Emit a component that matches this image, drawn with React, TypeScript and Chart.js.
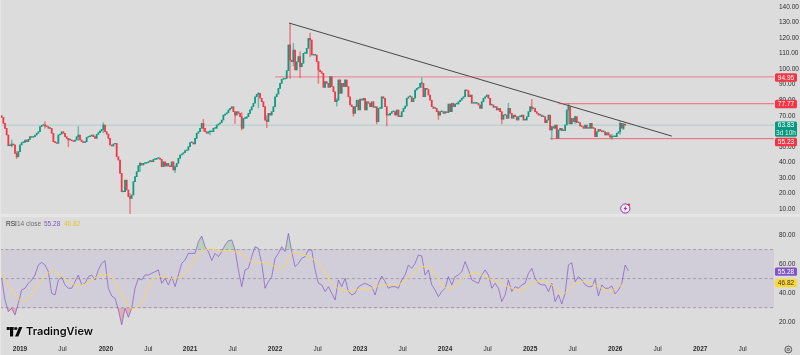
import React, { useEffect, useRef } from "react";
import { Chart, registerables } from "chart.js";

Chart.register(...registerables);

const FONT = "'Liberation Sans', sans-serif";
const BG = "#dcdcdc";
const UP = "#0b9a82";
const DOWN = "#f23645";

// weekly closes
const closes = [
  68.9, 65.1, 61.9, 57.6, 50.7, 50.7, 51.8, 51.2, 45.8, 43.6, 46.9, 51.2, 52.7, 52.9, 54.4, 53.3, 54.8, 56.5, 56.1, 56.5,
  57.6, 58.7, 59.7, 63.0, 63.8, 64.2, 63.4, 63.0, 61.9, 61.9, 58.7, 53.3, 52.7, 52.2, 57.6, 58.2, 59.7, 58.7, 56.5, 55.4,
  54.4, 54.4, 53.9, 53.5, 54.4, 56.5, 57.6, 54.4, 53.3, 52.7, 53.3, 56.1, 56.5, 56.9, 57.6, 56.5, 55.4, 58.0, 59.1, 60.2,
  61.2, 64.0, 59.7, 58.2, 55.4, 51.2, 50.5, 51.8, 52.2, 43.6, 41.5, 32.9, 21.1, 21.1, 28.6, 22.2, 18.0, 16.8, 19.0, 27.6,
  30.8, 34.0, 37.9, 39.4, 38.3, 39.4, 39.4, 39.8, 40.4, 41.1, 40.4, 41.9, 41.9, 42.6, 42.8, 41.9, 37.2, 40.4, 37.6, 39.4,
  37.6, 37.2, 40.4, 35.1, 37.2, 39.4, 42.6, 44.7, 45.4, 46.2, 47.5, 47.9, 50.1, 52.7, 52.7, 51.8, 55.4, 58.7, 59.7, 61.9,
  65.1, 61.9, 59.7, 58.7, 59.7, 59.7, 59.7, 61.9, 61.9, 64.0, 64.7, 65.5, 67.2, 70.4, 71.1, 71.9, 73.7, 74.7, 75.8, 72.6,
  70.4, 72.6, 71.5, 69.4, 61.9, 68.3, 68.3, 69.4, 71.5, 73.7, 75.8, 78.0, 82.2, 83.7, 84.4, 81.2, 79.0, 75.8, 67.2, 66.2,
  71.5, 70.4, 72.6, 75.8, 82.2, 83.9, 87.6, 90.8, 93.4, 93.6, 94.0, 99.0, 115.5, 105.8, 104.7, 112.2, 99.4, 104.7, 108.0, 101.5,
  103.7, 110.1, 110.1, 113.3, 119.7, 118.7, 109.0, 109.0, 109.0, 104.7, 99.4, 98.3, 97.2, 88.2, 91.9, 90.8, 88.2, 95.1, 88.7, 85.4,
  79.0, 80.0, 93.0, 84.4, 90.8, 88.7, 93.0, 88.7, 82.2, 76.9, 75.8, 71.5, 75.8, 80.0, 73.7, 80.7, 80.0, 81.2, 73.7, 79.0,
  78.0, 75.8, 79.0, 75.4, 75.8, 66.2, 74.7, 74.7, 82.2, 81.2, 75.8, 70.4, 70.4, 71.5, 72.6, 72.6, 70.4, 73.7, 69.4, 69.4,
  72.6, 74.7, 76.2, 81.2, 82.2, 82.2, 79.0, 81.2, 86.5, 87.6, 88.2, 90.8, 90.8, 82.2, 87.6, 86.9, 83.3, 80.0, 75.8, 74.7,
  74.7, 72.6, 70.4, 72.6, 72.6, 71.5, 72.6, 72.0, 77.5, 72.6, 78.0, 75.8, 77.5, 77.5, 79.0, 80.0, 81.2, 82.2, 86.5, 86.1,
  82.2, 83.3, 78.0, 78.0, 78.0, 78.0, 76.9, 74.7, 79.0, 81.2, 82.2, 83.3, 81.2, 76.9, 76.9, 75.4, 75.8, 73.7, 74.7, 72.6,
  67.7, 70.4, 70.4, 68.3, 74.7, 71.5, 68.3, 70.4, 69.4, 67.2, 69.4, 69.4, 70.4, 67.2, 67.2, 69.4, 72.6,
  75.8, 74.7, 74.7, 72.6, 71.5, 70.4, 70.4, 69.4, 69.4, 65.5, 67.2, 70.4, 60.8, 63.0, 61.9, 64.0, 55.4, 60.8, 61.9, 60.4,
  60.4, 64.0, 73.7, 75.8, 64.7, 68.3, 66.2, 69.4, 65.5, 65.5, 63.4, 63.0, 61.9, 64.0, 61.9, 61.9, 65.1, 61.9, 61.9, 56.5,
  59.7, 61.2, 60.4, 59.7, 59.7, 57.6, 59.1, 57.6, 56.1, 56.5, 56.5, 56.5, 58.7, 59.7, 65.1, 61.9, 64.7, 63.83,
];

// notable wicks: candle index, low, high
const wickIndex = [6, 9, 26, 40, 46, 61, 77, 83, 104, 121, 125, 140, 144, 154, 159, 173, 175, 179, 185, 190, 201, 211, 225, 231, 252, 262, 300, 304, 318, 330, 333, 340, 344, 366, 371, 373];
const wickLow = [50, 42.4, 62, 50.1, 54, 59, 6.2, 34, 33.4, 60, 57.6, 65, 60.8, 75, 62.3, 94, 102, 94.5, 108, 90.8, 76.2, 69.8, 64.7, 63.4, 88, 67.6, 64.7, 70, 73, 54.8, 55.3, 64.7, 65, 54.8, 58, 61];
const wickHigh = [54.4, 47, 66.2, 55, 63, 65.5, 20, 40, 38, 67.6, 60, 72, 72, 85, 70, 129.4, 116.5, 111, 123.1, 105, 81, 76, 74.7, 72, 94.4, 73, 71, 78, 80.5, 63, 62, 77.8, 69.8, 58, 66.2, 65];

const rsiValues = [
  50.2, 35.3, 27.3, 29.6, 25, 33.1, 42.2, 43.4, 46.8, 49.1, 52.5, 59.4, 61.2, 59.4, 54.8, 39.9, 38.8, 49.1, 50.9, 45.7,
  43.4, 43.4, 47.9, 52.5, 45.7, 46.8, 51.4, 52.5, 49.1, 56, 60.5, 62.4, 43.4, 38.1, 36.5, 28.5, 18.2, 29.6, 23.4, 29.6,
  43.4, 50.2, 49.1, 52.5, 52.5, 53.7, 54.8, 56, 46.8, 50.2, 45.7, 51.4, 44.5, 52.5, 60.5, 62.8, 67.4, 67.4, 67.4, 75.4,
  79.3, 72, 68.6, 62.4, 67.4, 65.1, 68.6, 73.1, 76.1, 76.6, 69.7, 56, 44.5, 56, 57.1, 65.1, 72, 70.8, 60.5, 43.4, 47.9,
  51.4, 64, 67.4, 72, 68.6, 81.1, 68.6, 58.2, 60.5, 64, 65.1, 69.7, 69.7, 56, 46.8, 45.7, 41.1, 44.5, 39.9, 35.3, 49.1,
  44.5, 50.2, 41.1, 38.8, 39.9, 44.5, 45.7, 46.8, 45.7, 44.5, 38.8, 46.8, 51.8, 47.9, 43.4, 44.5, 44.5, 43.4, 49.1, 52.5,
  59.4, 57.1, 60.5, 66.3, 65.6, 52.5, 56, 45.7, 42.2, 37.6, 41.1, 43.4, 51.4, 45.7, 51.4, 52.5, 54.8, 61.7, 56, 49.1,
  47.9, 46.8, 52.5, 56, 52.5, 43.4, 46.8, 43.4, 34.2, 38.8, 49.1, 41.1, 44.5, 43.4, 45.7, 46.8, 53.7, 57.1, 50.2, 46.8,
  45.7, 45.7, 41.1, 46.8, 34.2, 38.8, 32.6, 39.9, 59.4, 61, 47.9, 51.4, 49.1, 45.7, 44.5, 44.5, 49.5, 38.1, 45.7, 43.4,
  43.4, 45, 39.5, 42.2, 46.8, 59.4, 55.28,
];

const rsiMaValues = [
  53.7, 42.2, 34.7, 38.8, 49.5, 54.8, 51.8, 46.8, 45.7, 49.1, 52.5, 50.9, 38.8, 29.6, 33.1, 47.9, 51.8, 50.2, 51.8, 59.4,
  68.6, 70.4, 69, 68.6, 67.4, 61.7, 61.2, 59.4, 57.1, 67.4, 66.7, 64, 58.2, 46.8, 42.2, 41.8, 42.9, 43.4, 45.7, 45.7,
  46.8, 52.5, 58.2, 56, 45.7, 43.4, 49.1, 53.7, 52.5, 49.1, 46.8, 43.4, 42.2, 46.8, 48.6, 45.7, 39.5, 44.5, 47.9, 46.3,
  43.4, 41.8, 45.7, 46.82,
];

const priceTicks = [10, 20, 30, 40, 50, 60, 70, 80, 90, 100, 110, 120, 130, 140];
const rsiTicks = [20, 40, 60, 80];
const timeLabels = ["2019", "Jul", "2020", "Jul", "2021", "Jul", "2022", "Jul", "2023", "Jul", "2024", "Jul", "2025", "Jul", "2026", "Jul", "2027", "Jul"];
const timeTicks = [11, 36.5, 62.5, 88, 113, 138.5, 164, 189.5, 215, 240.5, 266, 291.5, 317, 342.5, 368, 393.5, 419, 444.5];

const X_MIN = -1;
const X_MAX = 463.3;
const lastCandle = closes.length - 1;

const resistance = { price: 94.95, from: 164 };
const midResistance = { price: 77.77, from: 334 };
const support = { price: 55.23, from: 329 };
const lastPrice = 63.83;
const trendStart = { x: 172.4, y: 129.6 };
const trendEnd = { x: 402, y: 56.9 };

const noPadding = (a: any) => {
  a.paddingTop = 0;
  a.paddingBottom = 0;
  a.paddingLeft = 0;
  a.paddingRight = 0;
};

const rightAxis = (ticks: number[], min: number, max: number) => ({
  position: "right",
  min,
  max,
  grid: { display: false, drawTicks: false },
  border: { display: false },
  afterBuildTicks: (a: any) => {
    a.ticks = ticks.map((value) => ({ value }));
  },
  afterFit: (a: any) => {
    a.width = 26;
    noPadding(a);
  },
  ticks: {
    padding: 5,
    autoSkip: false,
    color: "#2b2b2b",
    font: { family: FONT, size: 6.5 },
    callback: (v: any) => Number(v).toFixed(2),
  },
});

function tag(ctx: CanvasRenderingContext2D, y0: number, y1: number, color: string, text: string, textColor = "#fff") {
  ctx.fillStyle = color;
  ctx.beginPath();
  ctx.roundRect(775, y0, 22, y1 - y0, 1.5);
  ctx.fill();
  ctx.fillStyle = textColor;
  ctx.font = `6.5px ${FONT}`;
  ctx.textAlign = "center";
  ctx.textBaseline = "middle";
  ctx.fillText(text, 786, (y0 + y1) / 2 + 0.3);
}

const pricePlugin = {
  id: "priceDecor",
  afterDraw(chart: any) {
    const { ctx } = chart;
    const py = chart.scales.y;
    ctx.save();
    const boxAt = (v: number, col: string, shift = 0) => {
      const y = py.getPixelForValue(v) + shift;
      tag(ctx, y - 4.2, y + 4.2, col, v.toFixed(2));
    };
    boxAt(resistance.price, DOWN, 0.6);
    boxAt(midResistance.price, DOWN, 0.4);
    const ly = py.getPixelForValue(lastPrice);
    ctx.fillStyle = "#089981";
    ctx.beginPath();
    ctx.roundRect(775, ly - 3.8, 22, 15.3, 1.5);
    ctx.fill();
    ctx.fillStyle = "#fff";
    ctx.font = `6.5px ${FONT}`;
    ctx.textAlign = "center";
    ctx.textBaseline = "middle";
    ctx.fillText(lastPrice.toFixed(2), 786, ly + 0.3);
    ctx.fillStyle = "#d8f0ea";
    ctx.fillText("3d 10h", 786, ly + 7.5);
    boxAt(support.price, DOWN, 3.3);

    // bolt badge
    ctx.beginPath();
    ctx.arc(625.3, 208.5, 4.6, 0, Math.PI * 2);
    ctx.fillStyle = "#f3f0f6";
    ctx.fill();
    ctx.lineWidth = 1;
    ctx.strokeStyle = "#9c27b0";
    ctx.stroke();
    ctx.fillStyle = "#9c27b0";
    ctx.beginPath();
    ctx.moveTo(626.4, 205.6);
    ctx.lineTo(623.5, 209);
    ctx.lineTo(625.1, 209);
    ctx.lineTo(624.4, 211.4);
    ctx.lineTo(627.2, 208);
    ctx.lineTo(625.6, 208);
    ctx.closePath();
    ctx.fill();
    ctx.fillStyle = "#f23645";
    ctx.beginPath();
    ctx.arc(629, 204.8, 1.2, 0, Math.PI * 2);
    ctx.fill();
    ctx.restore();
  },
};

const rsiPlugin = {
  id: "rsiDecor",
  afterDraw(chart: any) {
    const { ctx } = chart;
    const ry = chart.scales.y;
    ctx.save();
    const rsiLast = rsiValues[rsiValues.length - 1];
    const maLast = rsiMaValues[rsiMaValues.length - 1];
    let y = ry.getPixelForValue(rsiLast);
    tag(ctx, y - 3.5, y + 4.7, "#7e57c2", rsiLast.toFixed(2));
    y = ry.getPixelForValue(maLast);
    tag(ctx, y - 4.4, y + 4, "#fdd835", maLast.toFixed(2), "#333");

    // legend
    ctx.textAlign = "left";
    ctx.textBaseline = "middle";
    ctx.font = `6.5px ${FONT}`;
    const ly = 7;
    ctx.fillStyle = "#2b2b2b";
    ctx.fillText("RSI", 6, ly);
    ctx.fillStyle = "#6f6f75";
    ctx.fillText("14 close", 17, ly);
    ctx.fillStyle = "#7e57c2";
    ctx.fillText(rsiLast.toFixed(2), 44, ly);
    ctx.fillStyle = "#e6c32c";
    ctx.fillText(maLast.toFixed(2), 64, ly);

    // TradingView logo
    const oy = 110;
    ctx.shadowColor = "rgba(255,255,255,0.9)";
    ctx.shadowBlur = 2;
    ctx.fillStyle = "#0a0a0a";
    ctx.fillRect(6.7, oy, 8, 3);
    ctx.fillRect(10, oy, 3.2, 9.5);
    ctx.beginPath();
    ctx.arc(16, oy + 1.6, 1.5, 0, Math.PI * 2);
    ctx.fill();
    ctx.beginPath();
    ctx.moveTo(19, oy);
    ctx.lineTo(22.4, oy);
    ctx.lineTo(18.4, oy + 9.5);
    ctx.lineTo(15, oy + 9.5);
    ctx.closePath();
    ctx.fill();
    ctx.font = `600 11px Inter, ${FONT}`;
    ctx.textBaseline = "middle";
    ctx.fillText("TradingView", 26, oy + 5);
    ctx.shadowBlur = 0;
    ctx.shadowColor = "transparent";

    // settings gear
    ctx.strokeStyle = "#4a4a4a";
    ctx.lineWidth = 0.9;
    ctx.beginPath();
    ctx.arc(788.3, 132.5, 3.4, 0, Math.PI * 2);
    ctx.stroke();
    ctx.beginPath();
    ctx.arc(788.3, 132.5, 1.2, 0, Math.PI * 2);
    ctx.stroke();
    ctx.restore();
  },
};

export default function App() {
  const priceRef = useRef<HTMLCanvasElement>(null);
  const rsiRef = useRef<HTMLCanvasElement>(null);

  useEffect(() => {
    const opens = closes.map((_, i) => (i === 0 ? 70 : closes[i - 1]));
    const colorOf = (i: number) => (closes[i] >= opens[i] ? UP : DOWN);
    const hLine = (price: number, from: number, color: string, width: number) => ({
      type: "line",
      data: [
        { x: from, y: price },
        { x: X_MAX, y: price },
      ],
      borderColor: color,
      borderWidth: width,
      pointRadius: 0,
      order: 0,
    });

    const price = new Chart(priceRef.current!, {
      type: "bar",
      data: {
        datasets: [
          {
            data: closes.map((c, i) => ({ x: i, y: [opens[i], c] })),
            backgroundColor: closes.map((_, i) => colorOf(i)),
            barThickness: 1.15,
            minBarLength: 0.8,
            grouped: false,
            order: 1,
          },
          {
            data: wickIndex.map((w, k) => ({ x: w, y: [wickLow[k], wickHigh[k]] })),
            backgroundColor: wickIndex.map((w) => (colorOf(w) === UP ? "rgba(11,154,130,0.55)" : "rgba(242,54,69,0.6)")),
            barThickness: 0.8,
            grouped: false,
            order: 2,
          },
          hLine(lastPrice, X_MIN, "rgba(8,153,129,0.14)", 1.6),
          hLine(resistance.price, resistance.from, "rgba(242,54,69,0.55)", 1),
          hLine(midResistance.price, midResistance.from, "rgba(242,54,69,0.55)", 1.3),
          hLine(support.price, support.from, "rgba(242,54,69,0.7)", 1),
          {
            type: "line",
            data: [trendStart, trendEnd],
            borderColor: "rgba(45,45,45,0.85)",
            borderWidth: 1,
            pointRadius: 0,
            order: 0,
          },
        ] as any,
      },
      options: {
        responsive: false,
        animation: false,
        devicePixelRatio: 1,
        layout: { padding: 0, autoPadding: false },
        plugins: { legend: { display: false }, tooltip: { enabled: false } },
        scales: {
          x: { type: "linear", min: X_MIN, max: X_MAX, display: false, offset: false, grid: { display: false, offset: false } },
          y: rightAxis(priceTicks, 6.8, 144.4) as any,
        },
      } as any,
      plugins: [pricePlugin],
    });

    const xExtent = [
      { x: X_MIN, y: 0 },
      { x: X_MAX, y: 0 },
    ];
    const band = (v: number, extra: any = {}) => ({
      data: xExtent.map((p) => ({ x: p.x, y: v })),
      borderColor: "#a3a1a8",
      borderWidth: 1,
      borderDash: [3, 2.5],
      pointRadius: 0,
      fill: false,
      order: 5,
      ...extra,
    });
    const rsiPoints = rsiValues.map((y, k) => ({ x: k * 2, y }));

    const rsi = new Chart(rsiRef.current!, {
      type: "line",
      data: {
        datasets: [
          band(70, { fill: { target: { value: 30 } }, backgroundColor: "rgba(126,87,194,0.1)" }),
          band(50),
          band(30),
          {
            data: rsiPoints,
            borderColor: "rgba(126,87,194,0.7)",
            borderWidth: 1,
            pointRadius: 0,
            fill: { target: { value: 70 }, above: "rgba(76,175,80,0.22)", below: "rgba(0,0,0,0)" },
            order: 1,
          },
          {
            data: rsiPoints,
            borderColor: "rgba(0,0,0,0)",
            borderWidth: 0,
            pointRadius: 0,
            fill: { target: { value: 30 }, above: "rgba(0,0,0,0)", below: "rgba(242,54,69,0.28)" },
            order: 2,
          },
          {
            data: rsiMaValues.map((y, k) => ({ x: k === rsiMaValues.length - 1 ? lastCandle : k * 6, y })),
            borderColor: "#f7d560",
            borderWidth: 1,
            pointRadius: 0,
            tension: 0.4,
            order: 0,
          },
        ] as any,
      },
      options: {
        responsive: false,
        animation: false,
        devicePixelRatio: 1,
        layout: { padding: 0, autoPadding: false },
        plugins: { legend: { display: false }, tooltip: { enabled: false } },
        scales: {
          x: {
            type: "linear",
            min: X_MIN,
            max: X_MAX,
            grid: { display: false, drawTicks: false },
            border: { display: false },
            afterBuildTicks: (a: any) => {
              a.ticks = timeTicks.map((value) => ({ value }));
            },
            afterFit: (a: any) => {
              a.height = 15;
              noPadding(a);
            },
            ticks: {
              padding: 5,
              autoSkip: false,
              maxRotation: 0,
              color: "#2b2b2b",
              font: (c: any) => ({ family: FONT, size: 6.5, weight: timeLabels[c.index] === "Jul" ? "normal" : "bold" }),
              callback: (_: any, i: number) => timeLabels[i],
            },
          },
          y: rightAxis(rsiTicks, 7.8, 92.4) as any,
        },
      } as any,
      plugins: [rsiPlugin],
    });

    return () => {
      price.destroy();
      rsi.destroy();
    };
  }, []);

  return (
    <div style={{ position: "fixed", left: 0, top: 0, width: 800, height: 355, background: "#e6e6e6", overflow: "hidden" }}>
      <div style={{ position: "absolute", left: 0, top: 0, width: 800, height: 214, background: BG }}>
        <canvas ref={priceRef} width={800} height={214} style={{ display: "block" }} />
      </div>
      <div style={{ position: "absolute", left: 0, top: 217, width: 800, height: 138, background: BG }}>
        <canvas ref={rsiRef} width={800} height={138} style={{ display: "block" }} />
      </div>
      <div style={{ position: "absolute", left: 0, top: 0, width: 1, height: 355, background: "#e6e6e6" }} />
    </div>
  );
}
